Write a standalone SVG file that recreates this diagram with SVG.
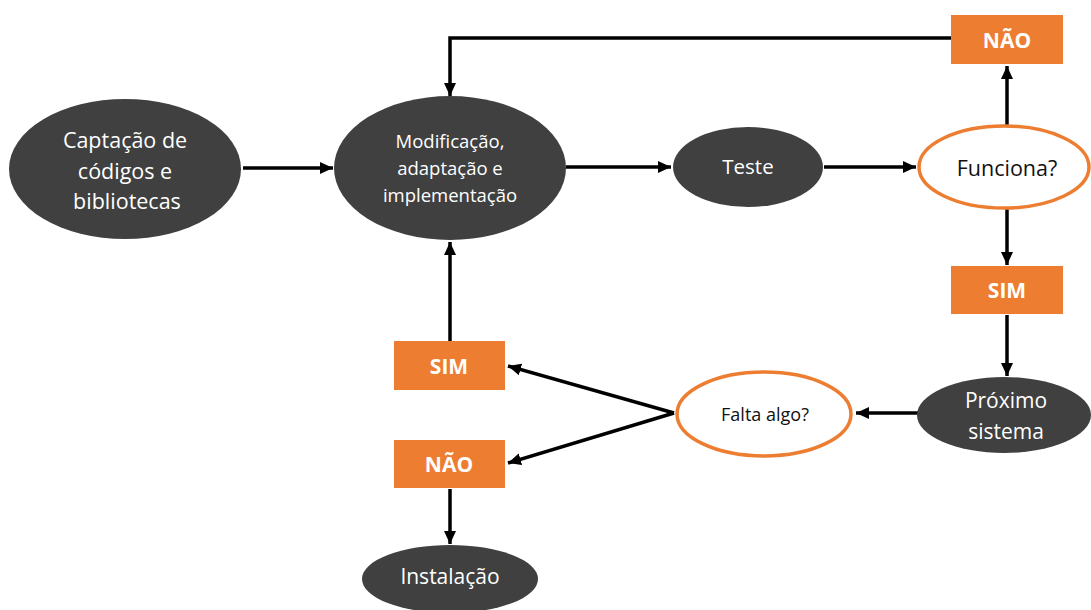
<svg xmlns="http://www.w3.org/2000/svg" width="1091" height="610" viewBox="0 0 1091 610">
<defs>
<marker id="ah" markerUnits="userSpaceOnUse" markerWidth="14" markerHeight="14" viewBox="0 0 14 14" refX="13" refY="7" orient="auto">
<path d="M0,1 L13,7 L0,13 Z" fill="#000"/>
</marker>
<style>
.dark{fill:#404040;}
.white{fill:#fff;stroke:#ED7D31;stroke-width:3.5;}
.box{fill:#ED7D31;}
.t{font-family:"Open Sans","Liberation Sans",sans-serif;text-anchor:middle;dominant-baseline:central;}
.tw{fill:#fff;}
.tb{fill:#111;}
.lbl{font-family:"Open Sans","Liberation Sans",sans-serif;font-weight:bold;font-size:21px;fill:#fff;text-anchor:middle;dominant-baseline:central;}
.c{fill:none;stroke:#000;stroke-width:3.5;}
</style>
</defs>
<rect width="1091" height="610" fill="#fff"/>
<g id="connectors">
<line class="c" x1="243" y1="168" x2="333" y2="168" marker-end="url(#ah)"/>
<line class="c" x1="566" y1="167" x2="671" y2="167" marker-end="url(#ah)"/>
<line class="c" x1="824" y1="167" x2="916" y2="167" marker-end="url(#ah)"/>
<line class="c" x1="1007" y1="125" x2="1007" y2="66" marker-end="url(#ah)"/>
<polyline class="c" points="951,38 450,38 450,96" marker-end="url(#ah)"/>
<line class="c" x1="1007" y1="209" x2="1007" y2="265" marker-end="url(#ah)"/>
<line class="c" x1="1007" y1="315" x2="1007" y2="376" marker-end="url(#ah)"/>
<line class="c" x1="918" y1="413" x2="856" y2="413" marker-end="url(#ah)"/>
<line class="c" x1="674" y1="413" x2="508" y2="366" marker-end="url(#ah)"/>
<line class="c" x1="674" y1="413" x2="508" y2="463" marker-end="url(#ah)"/>
<line class="c" x1="450" y1="341" x2="450" y2="242" marker-end="url(#ah)"/>
<line class="c" x1="450" y1="489" x2="450" y2="544" marker-end="url(#ah)"/>
</g>
<g id="captacao">
<ellipse class="dark" cx="125" cy="169" rx="116" ry="70"/>
<text class="t tw" font-size="21.5" x="125" y="139">Captação de</text>
<text class="t tw" font-size="21.5" x="125" y="170">códigos e</text>
<text class="t tw" font-size="21.5" x="127" y="200">bibliotecas</text>
</g>
<g id="modificacao">
<ellipse class="dark" cx="450" cy="168" rx="116" ry="72"/>
<text class="t tw" font-size="18.5" x="450" y="140">Modificação,</text>
<text class="t tw" font-size="18.5" x="450" y="167">adaptação e</text>
<text class="t tw" font-size="18.5" x="450" y="194">implementação</text>
</g>
<g id="teste">
<ellipse class="dark" cx="748" cy="167" rx="75" ry="40"/>
<text class="t tw" font-size="20.5" x="748" y="166">Teste</text>
</g>
<g id="funciona">
<ellipse class="white" cx="1004" cy="167" rx="85" ry="41"/>
<text class="t tb" font-size="21.5" x="1007" y="167">Funciona?</text>
</g>
<g id="nao-top">
<rect class="box" x="951" y="15" width="112" height="49"/>
<text class="lbl" x="1007" y="40">NÃO</text>
</g>
<g id="sim-right">
<rect class="box" x="951" y="266" width="112" height="48"/>
<text class="lbl" x="1007" y="290">SIM</text>
</g>
<g id="proximo">
<ellipse class="dark" cx="1004" cy="415" rx="87" ry="38"/>
<text class="t tw" font-size="21" x="1006" y="400">Próximo</text>
<text class="t tw" font-size="21" x="1006" y="431">sistema</text>
</g>
<g id="falta">
<ellipse class="white" cx="764" cy="414" rx="87" ry="42"/>
<text class="t tb" font-size="18" x="765" y="414">Falta algo?</text>
</g>
<g id="sim-left">
<rect class="box" x="394" y="341" width="111" height="49"/>
<text class="lbl" x="449" y="366">SIM</text>
</g>
<g id="nao-left">
<rect class="box" x="394" y="440" width="111" height="48"/>
<text class="lbl" x="449" y="464">NÃO</text>
</g>
<g id="instalacao">
<ellipse class="dark" cx="450" cy="579" rx="88" ry="34"/>
<text class="t tw" font-size="21" x="450" y="576">Instalação</text>
</g>
</svg>
